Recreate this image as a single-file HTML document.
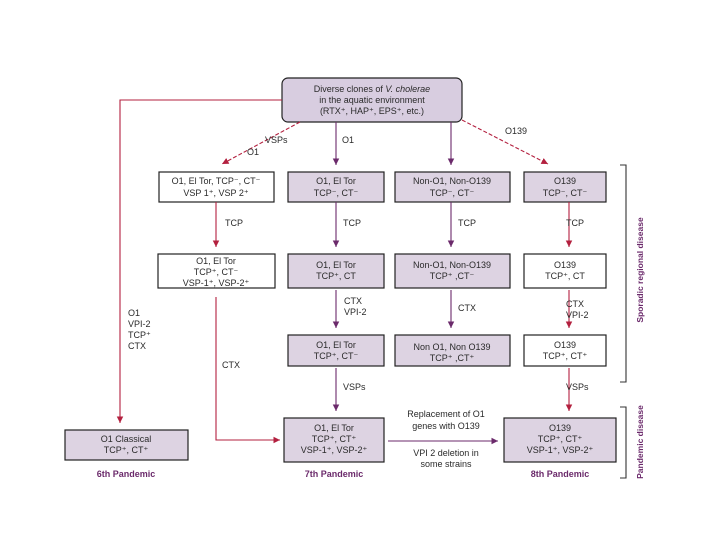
<!DOCTYPE html>
<html><head><meta charset="utf-8"><style>
body{margin:0;background:#fff;}
svg text{font-family:"Liberation Sans",sans-serif;font-size:9px;fill:#2a2a2a;}
</style></head><body>
<svg width="720" height="540" viewBox="0 0 720 540" xmlns="http://www.w3.org/2000/svg">
<defs>
<marker id="r" markerWidth="8" markerHeight="8" refX="6" refY="3" orient="auto"><path d="M0,0L6,3L0,6z" fill="#b3203f"/></marker>
<marker id="p" markerWidth="8" markerHeight="8" refX="6" refY="3" orient="auto"><path d="M0,0L6,3L0,6z" fill="#6b2a6b"/></marker>
</defs>
<g stroke="#222" stroke-width="1.2">
<rect x="282" y="78" width="180" height="44" rx="6" fill="#d8cde0"/>
<rect x="159" y="172" width="115" height="30" fill="#fff"/>
<rect x="288" y="172" width="96" height="30" fill="#ddd3e2"/>
<rect x="395" y="172" width="115" height="30" fill="#ddd3e2"/>
<rect x="524" y="172" width="82" height="30" fill="#ddd3e2"/>
<rect x="158" y="254" width="117" height="34" fill="#fff"/>
<rect x="288" y="254" width="96" height="34" fill="#ddd3e2"/>
<rect x="395" y="254" width="115" height="34" fill="#ddd3e2"/>
<rect x="524" y="254" width="82" height="34" fill="#fff"/>
<rect x="288" y="335" width="96" height="31" fill="#ddd3e2"/>
<rect x="395" y="335" width="115" height="31" fill="#ddd3e2"/>
<rect x="524" y="335" width="82" height="31" fill="#fff"/>
<rect x="65" y="430" width="123" height="30" fill="#ddd3e2"/>
<rect x="284" y="418" width="100" height="44" fill="#ddd3e2"/>
<rect x="504" y="418" width="112" height="44" fill="#ddd3e2"/>
</g>
<g fill="none" stroke-width="1.1">
<path d="M282,100H120V423" stroke="#b3203f" marker-end="url(#r)"/>
<path d="M300,122L222,164" stroke="#b3203f" stroke-dasharray="4,2" marker-end="url(#r)"/>
<path d="M336,122V165" stroke="#6b2a6b" marker-end="url(#p)"/>
<path d="M451,122V165" stroke="#6b2a6b" marker-end="url(#p)"/>
<path d="M462,120L548,164" stroke="#b3203f" stroke-dasharray="4,2" marker-end="url(#r)"/>
<path d="M216,202V247" stroke="#b3203f" marker-end="url(#r)"/>
<path d="M336,202V247" stroke="#6b2a6b" marker-end="url(#p)"/>
<path d="M451,202V247" stroke="#6b2a6b" marker-end="url(#p)"/>
<path d="M569,202V247" stroke="#b3203f" marker-end="url(#r)"/>
<path d="M336,290V328" stroke="#6b2a6b" marker-end="url(#p)"/>
<path d="M451,290V328" stroke="#6b2a6b" marker-end="url(#p)"/>
<path d="M569,290V328" stroke="#b3203f" marker-end="url(#r)"/>
<path d="M336,368V411" stroke="#6b2a6b" marker-end="url(#p)"/>
<path d="M569,368V411" stroke="#b3203f" marker-end="url(#r)"/>
<path d="M216,297V440H280" stroke="#b3203f" marker-end="url(#r)"/>
<path d="M388,441H498" stroke="#6b2a6b" marker-end="url(#p)"/>
<path d="M620,165H626V382H620M620,407H626V478H620" stroke="#333"/>
</g>
<g text-anchor="middle">
<text x="372" y="92">Diverse clones of <tspan font-style="italic">V. cholerae</tspan></text>
<text x="372" y="103">in the aquatic environment</text>
<text x="372" y="114">(RTX⁺, HAP⁺, EPS⁺, etc.)</text>
<text x="216" y="184">O1, El Tor, TCP⁻, CT⁻</text><text x="216" y="196">VSP 1⁺, VSP 2⁺</text>
<text x="336" y="184">O1, El Tor</text><text x="336" y="196">TCP⁻, CT⁻</text>
<text x="452" y="184">Non-O1, Non-O139</text><text x="452" y="196">TCP⁻, CT⁻</text>
<text x="565" y="184">O139</text><text x="565" y="196">TCP⁻, CT⁻</text>
<text x="216" y="264">O1, El Tor</text><text x="216" y="275">TCP⁺, CT⁻</text><text x="216" y="286">VSP-1⁺, VSP-2⁺</text>
<text x="336" y="268">O1, El Tor</text><text x="336" y="279">TCP⁺, CT</text>
<text x="452" y="268">Non-O1, Non-O139</text><text x="452" y="279">TCP⁺ ,CT⁻</text>
<text x="565" y="268">O139</text><text x="565" y="279">TCP⁺, CT</text>
<text x="336" y="348">O1, El Tor</text><text x="336" y="359">TCP⁺, CT⁻</text>
<text x="452" y="350">Non O1, Non O139</text><text x="452" y="361">TCP⁺ ,CT⁺</text>
<text x="565" y="348">O139</text><text x="565" y="359">TCP⁺, CT⁺</text>
<text x="126" y="442">O1 Classical</text><text x="126" y="453">TCP⁺, CT⁺</text>
<text x="334" y="431">O1, El Tor</text><text x="334" y="442">TCP⁺, CT⁺</text><text x="334" y="453">VSP-1⁺, VSP-2⁺</text>
<text x="560" y="431">O139</text><text x="560" y="442">TCP⁺, CT⁺</text><text x="560" y="453">VSP-1⁺, VSP-2⁺</text>
<text x="446" y="417">Replacement of O1</text><text x="446" y="429">genes with O139</text>
<text x="446" y="456">VPI 2 deletion in</text><text x="446" y="467">some strains</text>
<g style="font-weight:bold;fill:#6b2a6b"><text x="126" y="477" style="fill:#6b2a6b">6th Pandemic</text><text x="334" y="477" style="fill:#6b2a6b">7th Pandemic</text><text x="560" y="477" style="fill:#6b2a6b">8th Pandemic</text></g>
</g>
<text x="265" y="143">VSPs</text><text x="247" y="155">O1</text>
<text x="342" y="143">O1</text><text x="505" y="134">O139</text>
<text x="225" y="226">TCP</text><text x="343" y="226">TCP</text><text x="458" y="226">TCP</text><text x="566" y="226">TCP</text>
<text x="344" y="304">CTX</text><text x="344" y="315">VPI-2</text>
<text x="458" y="311">CTX</text>
<text x="566" y="307">CTX</text><text x="566" y="318">VPI-2</text>
<text x="128" y="316">O1</text><text x="128" y="327">VPI-2</text><text x="128" y="338">TCP⁺</text><text x="128" y="349">CTX</text>
<text x="222" y="368">CTX</text>
<text x="343" y="390">VSPs</text><text x="566" y="390">VSPs</text>
<text transform="translate(643,270) rotate(-90)" text-anchor="middle" style="font-weight:bold;fill:#6b2a6b;font-size:8.5px">Sporadic regional disease</text>
<text transform="translate(643,442) rotate(-90)" text-anchor="middle" style="font-weight:bold;fill:#6b2a6b;font-size:8.5px">Pandemic disease</text>
</svg>
</body></html>
